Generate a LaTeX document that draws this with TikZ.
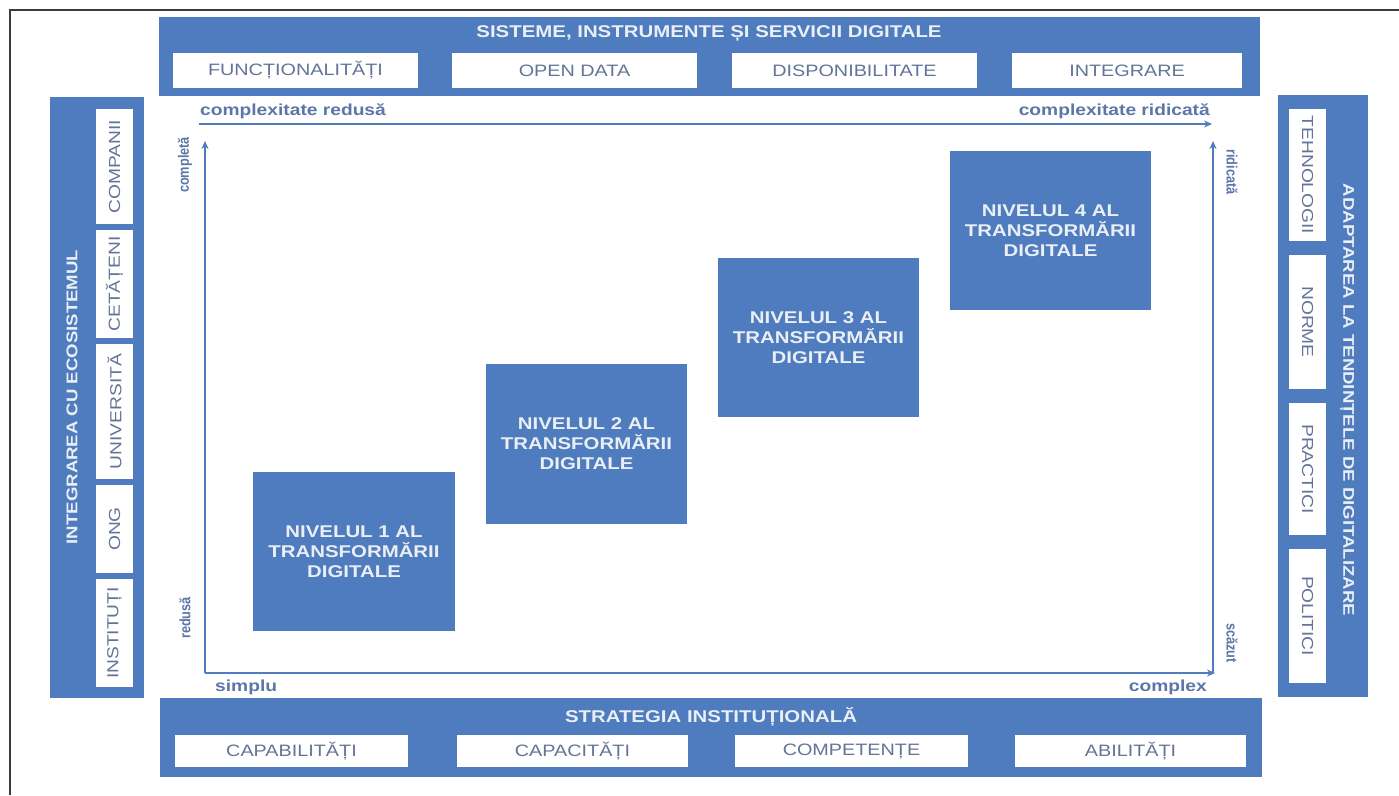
\documentclass[tikz,border=0pt]{standalone}
\usepackage{fontspec}
\setmainfont{Liberation Sans}[FakeStretch=1.2]
\newfontfamily\narrowfont{Liberation Sans}[FakeStretch=0.85]
\usetikzlibrary{arrows.meta}
\definecolor{barblue}{RGB}{79,124,190}
\definecolor{textlight}{RGB}{234,238,245}
\definecolor{labgray}{RGB}{100,116,152}
\definecolor{axiscol}{RGB}{92,118,168}
\definecolor{framegray}{RGB}{60,60,60}
\tikzset{
  bar/.style={fill=barblue, draw=none, inner sep=0pt},
  bartitle/.style={text=textlight, font=\bfseries\fontsize{17}{17}\selectfont, inner sep=0pt},
  vbartitle/.style={text=textlight, font=\bfseries\fontsize{15.5}{15.5}\selectfont, inner sep=0pt},
  wbox/.style={fill=white, draw=none, text=labgray, inner sep=0pt, font=\fontsize{16.5}{16.5}\selectfont},
  vwbox/.style={fill=white, draw=none, text=labgray, inner sep=0pt, font=\fontsize{16}{16}\selectfont},
  level/.style={fill=barblue, draw=none, text=textlight, align=center, inner sep=0pt, font=\bfseries\fontsize{17}{20}\selectfont},
  axlab/.style={text=axiscol, inner sep=0pt, font=\bfseries\fontsize{16}{16}\selectfont},
  vlab/.style={text=axiscol, inner sep=0pt, font=\narrowfont\bfseries\fontsize{15}{15}\selectfont},
  axis/.style={draw=barblue, line width=2pt, -{Stealth[length=8pt,width=7pt]}},
  frameline/.style={draw=framegray, line width=2pt}
}
\begin{document}
\begin{tikzpicture}[x=1pt,y=-1pt]
\useasboundingbox (0,0) rectangle (1399,795);
\fill[white] (0,0) rectangle (1399,795);
% frame of the scanned page
\draw[frameline] (9,10) -- (1399,10);
\draw[frameline] (10,10) -- (10,795);

% top bar
\node[bar, minimum width=1101pt, minimum height=79pt] (topbar) at (709.5,56.5) {};
\node[bartitle] (toptitle) at (709,34) {SISTEME, INSTRUMENTE ȘI SERVICII DIGITALE};
\node[wbox, minimum width=245pt, minimum height=35pt] (t1) at (295.5,70.5) {FUNCȚIONALITĂȚI};
\node[wbox, minimum width=245pt, minimum height=35pt] (t2) at (574.5,70.5) {OPEN DATA};
\node[wbox, minimum width=245pt, minimum height=35pt] (t3) at (854.5,70.5) {DISPONIBILITATE};
\node[wbox, minimum width=230pt, minimum height=35pt] (t4) at (1127,70.5) {INTEGRARE};

% bottom bar
\node[bar, minimum width=1102pt, minimum height=79pt] (botbar) at (711,737.5) {};
\node[bartitle] (bottitle) at (711,717) {STRATEGIA INSTITUȚIONALĂ};
\node[wbox, minimum width=233pt, minimum height=32pt] (b1) at (291.5,751) {CAPABILITĂȚI};
\node[wbox, minimum width=231pt, minimum height=32pt] (b2) at (572.5,751) {CAPACITĂȚI};
\node[wbox, minimum width=233pt, minimum height=32pt] (b3) at (851.5,751) {COMPETENȚE};
\node[wbox, minimum width=231pt, minimum height=32pt] (b4) at (1130.5,751) {ABILITĂȚI};

% left bar
\node[bar, minimum width=94pt, minimum height=601pt] (leftbar) at (97,397.5) {};
\node[vbartitle, rotate=90] (lefttitle) at (72,397) {INTEGRAREA CU ECOSISTEMUL};
\node[vwbox, rotate=90, minimum width=115pt, minimum height=37pt] (l1) at (114.5,166.5) {COMPANII};
\node[vwbox, rotate=90, minimum width=108pt, minimum height=37pt] (l2) at (114.5,284) {CETĂȚENI};
\node[vwbox, rotate=90, minimum width=135pt, minimum height=37pt] (l3) at (114.5,411.5) {UNIVERSITĂ};
\node[vwbox, rotate=90, minimum width=88pt, minimum height=37pt] (l4) at (114.5,529) {ONG};
\node[vwbox, rotate=90, minimum width=108pt, minimum height=37pt] (l5) at (114.5,633) {INSTITUȚI};

% right bar
\node[bar, minimum width=90pt, minimum height=602pt] (rightbar) at (1323,396) {};
\node[vbartitle, rotate=-90] (righttitle) at (1347,400) {ADAPTAREA LA TENDINȚELE DE DIGITALIZARE};
\node[vwbox, rotate=-90, minimum width=132pt, minimum height=37pt] (r1) at (1307.5,175) {TEHNOLOGII};
\node[vwbox, rotate=-90, minimum width=134pt, minimum height=37pt] (r2) at (1307.5,322) {NORME};
\node[vwbox, rotate=-90, minimum width=132pt, minimum height=37pt] (r3) at (1307.5,469) {PRACTICI};
\node[vwbox, rotate=-90, minimum width=134pt, minimum height=37pt] (r4) at (1307.5,616) {POLITICI};

% axes
\coordinate (tl) at (199,124);
\coordinate (tr) at (1212,124);
\coordinate (o) at (205,673);
\coordinate (ltop) at (205,141);
\coordinate (rb) at (1213,673);
\coordinate (rtop) at (1213,141);
\coordinate (br) at (1215,673);
\draw[axis] (tl) -- (tr);
\draw[axis] (o) -- (ltop);
\draw[axis] (rb) -- (rtop);
\draw[axis] (o) -- (br);

\node[axlab, anchor=west] (cr) at (200,111) {complexitate redusă};
\node[axlab, anchor=east] (cri) at (1210,111) {complexitate ridicată};
\node[axlab, anchor=west] (simplu) at (215,687) {simplu};
\node[axlab, anchor=east] (complex) at (1207,687) {complex};
\node[vlab, rotate=90] (completa) at (185,165) {completă};
\node[vlab, rotate=90] (redusa) at (185,618) {redusă};
\node[vlab, rotate=-90] (ridicata) at (1232,172) {ridicată};
\node[vlab, rotate=-90] (scazut) at (1232,643) {scăzut};

% levels
\node[level, minimum width=202pt, minimum height=159pt] (n1) at (354,551.5) {NIVELUL 1 AL\\TRANSFORMĂRII\\DIGITALE};
\node[level, minimum width=201pt, minimum height=160pt] (n2) at (586.5,444) {NIVELUL 2 AL\\TRANSFORMĂRII\\DIGITALE};
\node[level, minimum width=201pt, minimum height=159pt] (n3) at (818.5,337.5) {NIVELUL 3 AL\\TRANSFORMĂRII\\DIGITALE};
\node[level, minimum width=201pt, minimum height=159pt] (n4) at (1050.5,230.5) {NIVELUL 4 AL\\TRANSFORMĂRII\\DIGITALE};
\end{tikzpicture}
\end{document}
